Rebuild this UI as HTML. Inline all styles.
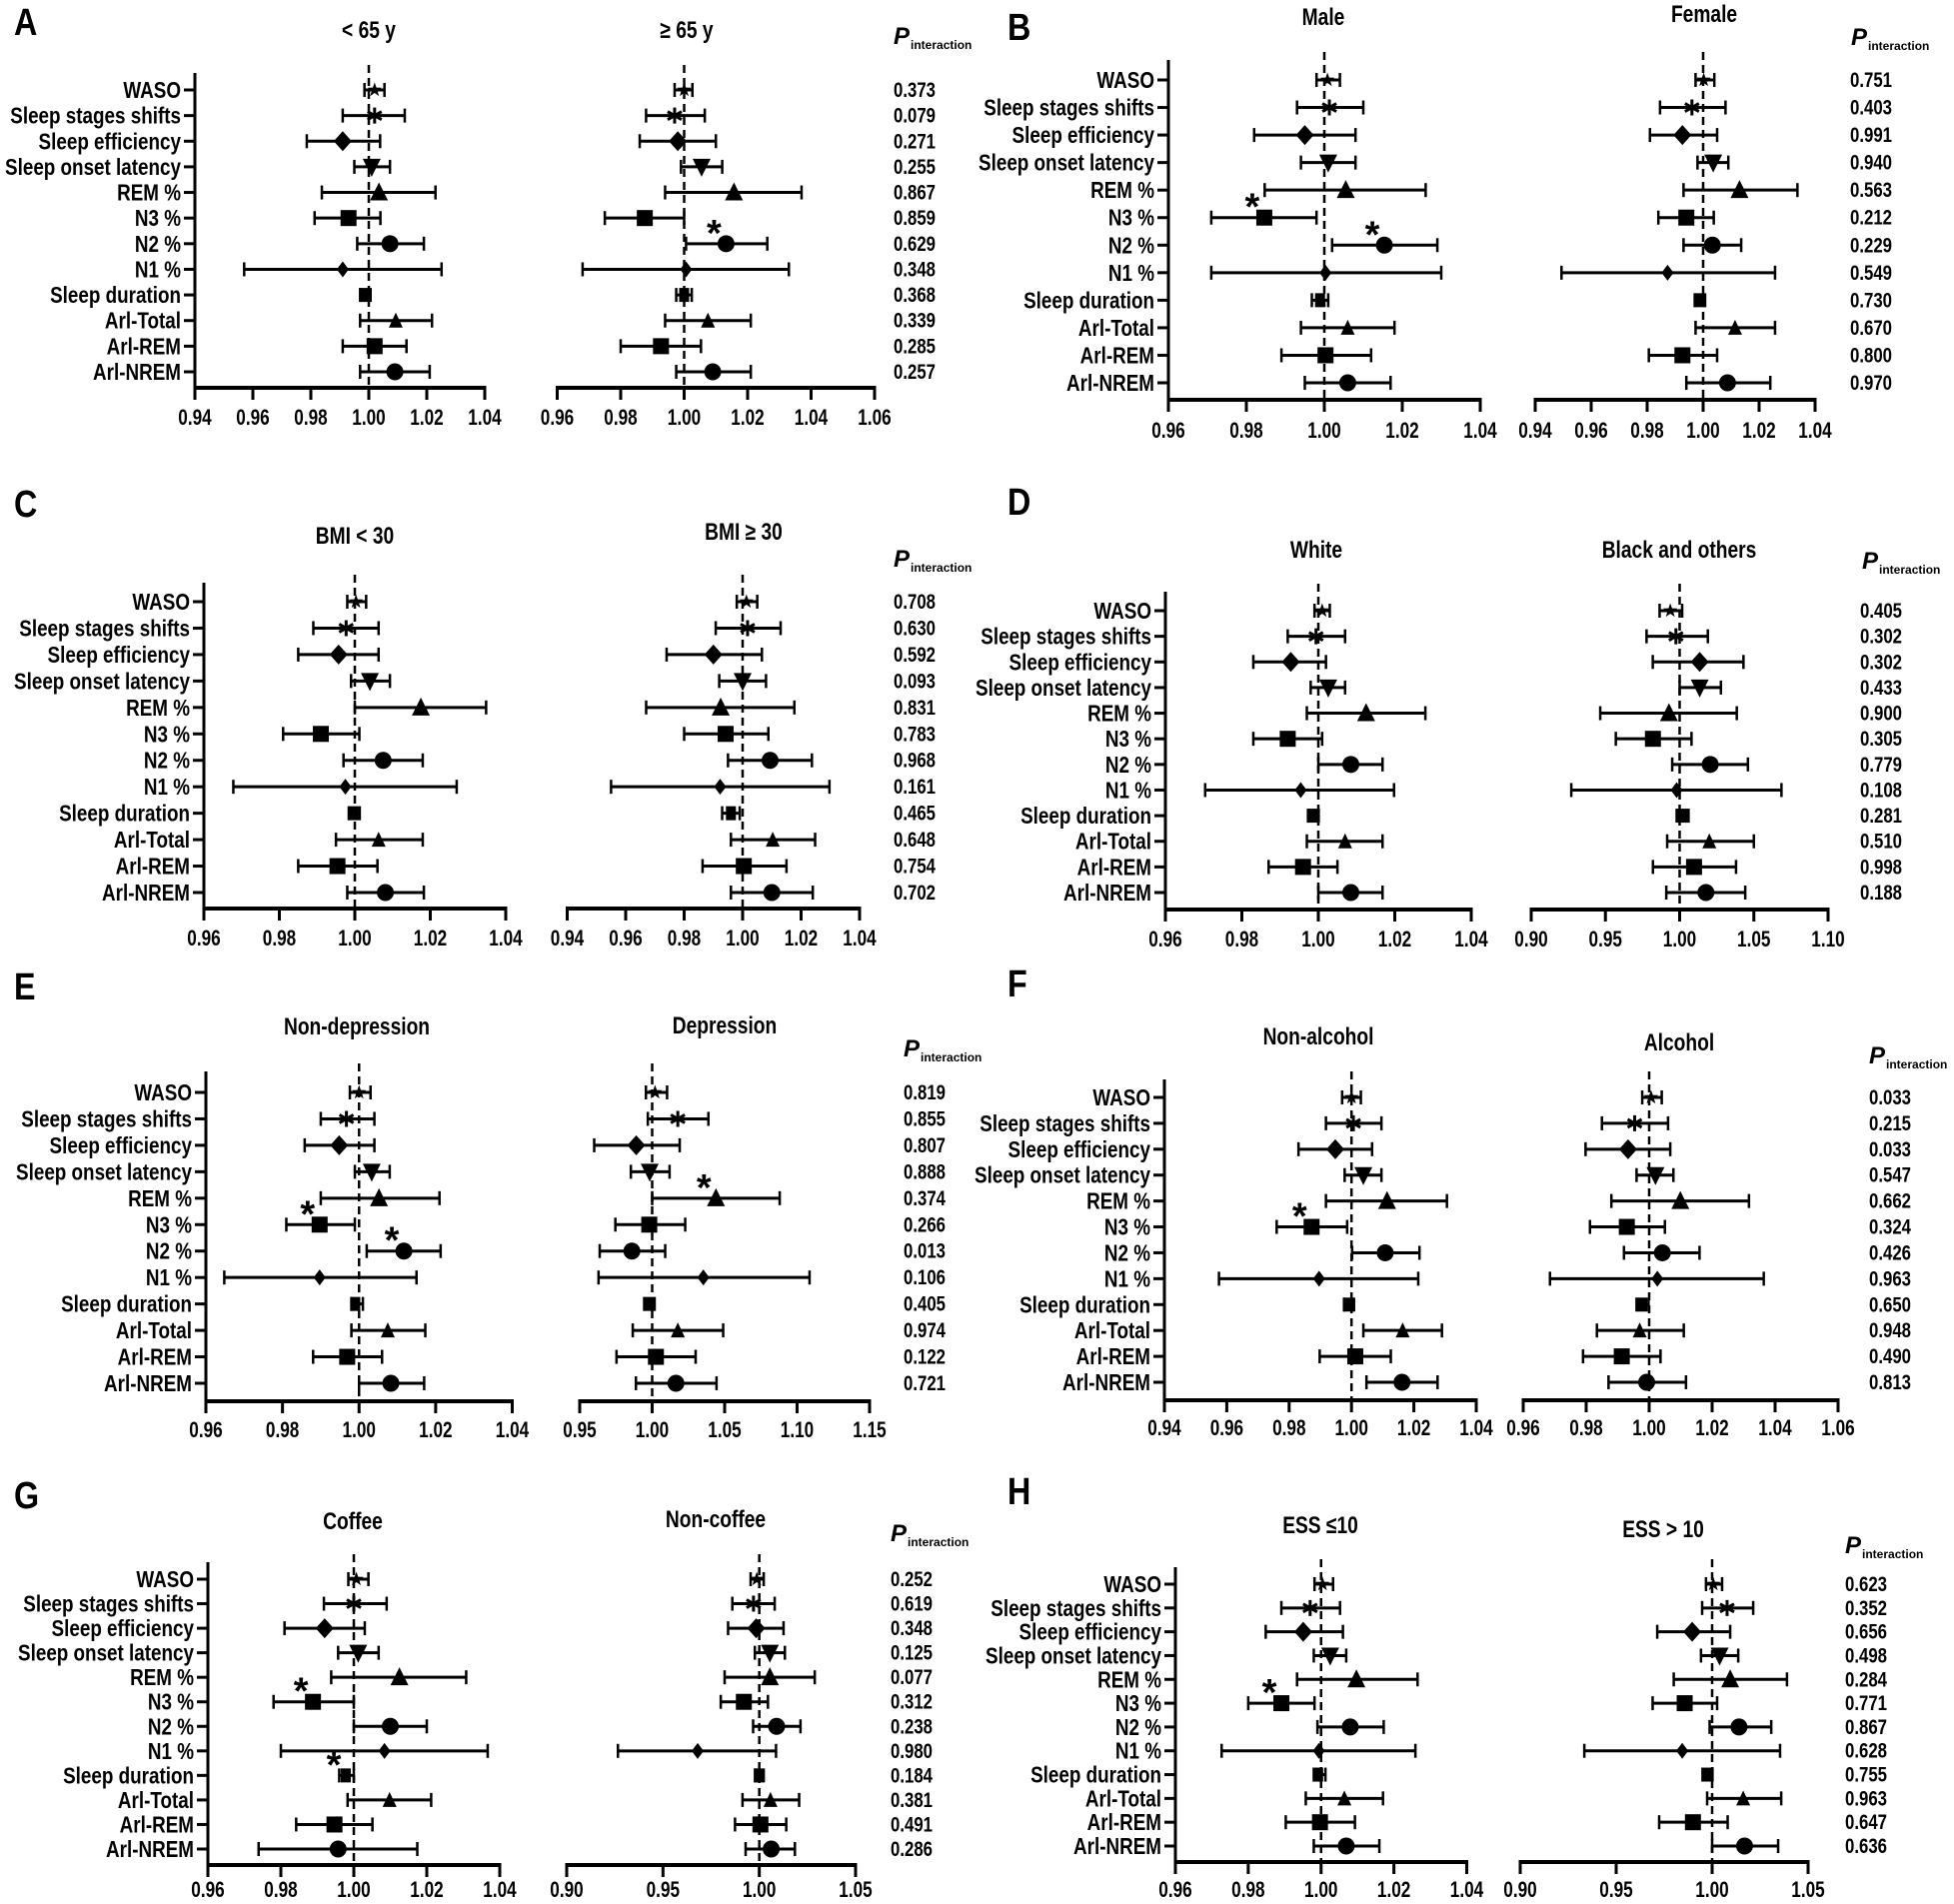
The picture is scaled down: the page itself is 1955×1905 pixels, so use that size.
<!DOCTYPE html>
<html><head><meta charset="utf-8"><title>Forest plots</title>
<style>
html,body{margin:0;padding:0;background:#fff;}
svg{display:block;}
text{font-family:"Liberation Sans","DejaVu Sans",sans-serif;font-weight:bold;fill:#000;}
</style></head>
<body>
<svg id="fig" xmlns="http://www.w3.org/2000/svg" width="1955" height="1905" viewBox="0 0 1955 1905"></svg>
<script>
const categories = ["WASO","Sleep stages shifts","Sleep efficiency","Sleep onset latency","REM %","N3 %","N2 %","N1 %","Sleep duration","Arl-Total","Arl-REM","Arl-NREM"];

const A_lt_est=[1.002,1.002,0.991,1.001,1.0035,0.993,1.0073,0.991,0.9985,1.0093,1.002,1.009];
const A_lt_lo=[0.9985,0.991,0.9786,0.995,0.9838,0.9813,0.996,0.957,0.997,0.997,0.991,0.997];
const A_lt_hi=[1.0054,1.0124,1.0039,1.0073,1.023,1.004,1.019,1.0251,1.0006,1.0218,1.013,1.021];
const A_lt_sig=[0,0,0,0,0,0,0,0,0,0,0,0];
const A_rt_est=[1.0,0.997,0.998,1.0055,1.0157,0.9876,1.0132,1.0006,1.0,1.0075,0.9927,1.009];
const A_rt_lo=[0.997,0.988,0.986,0.999,0.994,0.975,1.0006,0.968,0.9975,0.994,0.980,0.9975];
const A_rt_hi=[1.0026,1.0065,1.010,1.012,1.037,1.000,1.0262,1.033,1.0024,1.021,1.0053,1.021];
const A_rt_sig=[0,0,0,0,0,0,1,0,0,0,0,0];
const A_p=["0.373","0.079","0.271","0.255","0.867","0.859","0.629","0.348","0.368","0.339","0.285","0.257"];

const B_lt_est=[1.0008,1.0013,0.995,1.001,1.0055,0.9846,1.0154,1.0003,0.9989,1.006,1.0003,1.006];
const B_lt_lo=[0.998,0.993,0.982,0.994,0.9847,0.971,1.002,0.971,0.9968,0.994,0.989,0.995];
const B_lt_hi=[1.004,1.010,1.008,1.008,1.026,0.998,1.029,1.030,1.001,1.018,1.012,1.017];
const B_lt_sig=[0,0,0,0,0,1,1,0,0,0,0,0];
const B_rt_est=[1.0002,0.996,0.9926,1.0036,1.013,0.994,1.0033,0.9873,0.9987,1.0114,0.9926,1.0087];
const B_rt_lo=[0.9973,0.9846,0.981,0.998,0.993,0.984,0.993,0.9494,0.997,0.9973,0.9806,0.994];
const B_rt_hi=[1.004,1.008,1.005,1.009,1.0337,1.0038,1.0136,1.0257,1.0007,1.0257,1.005,1.024];
const B_rt_sig=[0,0,0,0,0,0,0,0,0,0,0,0];
const B_p=["0.751","0.403","0.991","0.940","0.563","0.212","0.229","0.549","0.730","0.670","0.800","0.970"];

const C_lt_est=[1.0003,0.9977,0.9957,1.004,1.0175,0.991,1.0075,0.9975,0.9997,1.0063,0.9954,1.0081];
const C_lt_lo=[0.998,0.989,0.985,0.999,1.000,0.981,0.997,0.9678,0.9984,0.995,0.985,0.998];
const C_lt_hi=[1.003,1.0063,1.0063,1.0093,1.0348,1.0012,1.018,1.027,1.0013,1.018,1.006,1.0183];
const C_lt_sig=[0,0,0,0,0,0,0,0,0,0,0,0];
const C_rt_est=[1.0013,1.0017,0.990,1.000,0.9925,0.9942,1.0094,0.9923,0.996,1.0103,1.0004,1.010];
const C_rt_lo=[0.998,0.9908,0.974,0.992,0.967,0.980,0.995,0.955,0.993,0.996,0.9863,0.996];
const C_rt_hi=[1.005,1.013,1.0066,1.008,1.0177,1.0088,1.0237,1.0297,0.999,1.0248,1.015,1.024];
const C_rt_sig=[0,0,0,0,0,0,0,0,0,0,0,0];
const C_p=["0.708","0.630","0.592","0.093","0.831","0.783","0.968","0.161","0.465","0.648","0.754","0.702"];

const D_lt_est=[1.001,0.9994,0.9928,1.0026,1.0125,0.992,1.0085,0.9954,0.9987,1.007,0.996,1.0085];
const D_lt_lo=[0.999,0.992,0.983,0.998,0.997,0.983,1.000,0.9704,0.9973,0.997,0.987,1.000];
const D_lt_hi=[1.003,1.007,1.002,1.007,1.028,1.001,1.0168,1.0198,1.0001,1.0168,1.005,1.0168];
const D_lt_sig=[0,0,0,0,0,0,0,0,0,0,0,0];
const D_rt_est=[0.9937,0.9975,1.0135,1.0135,0.9928,0.982,1.0206,0.998,1.002,1.020,1.0097,1.0177];
const D_rt_lo=[0.9865,0.9777,0.9819,1.0,0.9465,0.957,0.995,0.927,0.998,0.9916,0.982,0.991];
const D_rt_hi=[1.0017,1.019,1.043,1.0278,1.0385,1.008,1.046,1.0686,1.006,1.050,1.038,1.0442];
const D_rt_sig=[0,0,0,0,0,0,0,0,0,0,0,0];
const D_p=["0.405","0.302","0.302","0.433","0.900","0.305","0.779","0.108","0.281","0.510","0.998","0.188"];

const E_lt_est=[1.0,0.9967,0.9948,1.0033,1.0052,0.9897,1.0117,0.9897,0.999,1.0075,0.9969,1.0083];
const E_lt_lo=[0.9976,0.990,0.9858,0.9989,0.990,0.981,1.002,0.9648,0.998,0.998,0.988,1.0];
const E_lt_hi=[1.003,1.004,1.004,1.008,1.021,0.9989,1.0213,1.015,1.001,1.0173,1.006,1.017];
const E_lt_sig=[0,0,0,0,0,1,1,0,0,0,0,0];
const E_rt_est=[1.002,1.0177,0.989,0.9983,1.044,0.998,0.986,1.0353,0.998,1.0177,1.0026,1.0164];
const E_rt_lo=[0.9957,0.997,0.960,0.9853,1.0,0.9746,0.9638,0.963,0.9945,0.9866,0.9754,0.9888];
const E_rt_hi=[1.0103,1.0388,1.019,1.012,1.088,1.0228,1.009,1.1086,1.0017,1.049,1.030,1.0444];
const E_rt_sig=[0,0,0,0,1,0,0,0,0,0,0,0];
const E_p=["0.819","0.855","0.807","0.888","0.374","0.266","0.013","0.106","0.405","0.974","0.122","0.721"];

const F_lt_est=[1.0,1.0006,0.9948,1.0038,1.0114,0.9872,1.0108,0.9896,0.999,1.0164,1.0012,1.0162];
const F_lt_lo=[0.997,0.9918,0.983,0.9978,0.9918,0.976,1.0002,0.9575,0.9976,1.0038,0.9898,1.0048];
const F_lt_hi=[1.003,1.0096,1.0066,1.0096,1.0306,0.9986,1.0218,1.0214,1.0008,1.029,1.0126,1.0276];
const F_lt_sig=[0,0,0,0,0,1,0,0,0,0,0,0];
const F_rt_est=[1.0006,0.9954,0.9933,1.002,1.0099,0.9929,1.0042,1.0026,0.9978,0.997,0.9913,0.9992];
const F_rt_lo=[0.9978,0.985,0.9798,0.996,0.988,0.9812,0.992,0.9685,0.996,0.9834,0.979,0.9871];
const F_rt_hi=[1.004,1.006,1.0067,1.0077,1.0317,1.005,1.016,1.0364,0.9998,1.011,1.0036,1.0117];
const F_rt_sig=[0,0,0,0,0,0,0,0,0,0,0,0];
const F_p=["0.033","0.215","0.033","0.547","0.662","0.324","0.426","0.963","0.650","0.948","0.490","0.813"];

const G_lt_est=[1.0007,1.0,0.992,1.0012,1.0125,0.9888,1.010,1.0084,0.9978,1.0098,0.9947,0.9957];
const G_lt_lo=[0.9985,0.9918,0.981,0.9957,0.9938,0.978,1.0,0.98,0.996,0.9983,0.9842,0.9739];
const G_lt_hi=[1.004,1.009,1.003,1.0068,1.0308,1.0,1.020,1.0367,1.0,1.0212,1.0051,1.0174];
const G_lt_sig=[0,0,0,0,0,1,0,0,1,0,0,0];
const G_rt_est=[0.9987,0.997,0.9984,1.0055,1.0055,0.992,1.009,0.968,0.9997,1.0058,1.0006,1.0062];
const G_rt_lo=[0.9955,0.986,0.9838,0.9977,0.982,0.980,0.9968,0.9266,0.998,0.9913,0.9874,0.9929];
const G_rt_hi=[1.0023,1.008,1.0126,1.0133,1.0288,1.0045,1.0214,1.0087,1.0023,1.0207,1.014,1.0185];
const G_rt_sig=[0,0,0,0,0,0,0,0,0,0,0,0];
const G_p=["0.252","0.619","0.348","0.125","0.077","0.312","0.238","0.980","0.184","0.381","0.491","0.286"];

const H_lt_est=[1.0004,0.997,0.9951,1.0025,1.0097,0.9891,1.008,0.9994,0.9992,1.0064,0.9997,1.0069];
const H_lt_lo=[0.9982,0.9891,0.9848,0.998,0.9934,0.980,0.999,0.9727,0.998,0.9958,0.9903,0.998];
const H_lt_hi=[1.0033,1.0052,1.006,1.0069,1.0265,0.9982,1.0172,1.0259,1.0012,1.017,1.0093,1.016];
const H_lt_sig=[0,0,0,0,0,1,0,0,0,0,0,0];
const H_rt_est=[1.0006,1.0078,0.9896,1.0039,1.0094,0.9857,1.014,0.9844,0.9974,1.0162,0.990,1.0169];
const H_rt_lo=[0.9968,0.9948,0.9714,0.9942,0.980,0.969,0.9987,0.9334,0.995,0.9974,0.9724,1.0];
const H_rt_hi=[1.0052,1.0214,1.0094,1.0136,1.039,1.0026,1.0308,1.0354,1.0002,1.036,1.0081,1.0344];
const H_rt_sig=[0,0,0,0,0,0,0,0,0,0,0,0];
const H_p=["0.623","0.352","0.656","0.498","0.284","0.771","0.867","0.628","0.755","0.963","0.647","0.636"];

const ticks_94_104=["0.94","0.96","0.98","1.00","1.02","1.04"];
const ticks_96_104=["0.96","0.98","1.00","1.02","1.04"];
const ticks_96_106=["0.96","0.98","1.00","1.02","1.04","1.06"];
const ticks_90_110=["0.90","0.95","1.00","1.05","1.10"];
const ticks_95_115=["0.95","1.00","1.05","1.10","1.15"];
const ticks_90_105=["0.90","0.95","1.00","1.05"];

const markerShapes=["star","ast","diamond","tridown","triup","square","circle","diamondS","sd","triupS","square","circle"];

const panels=[
 {id:"A",lx:14,ly:35,top:90,bot:372,axisY:388,tickY:425,yTop:73,pX:894,pintX:894,pintY:44,
  subs:[{px0:195,px1:485,ticks:ticks_94_104,title:"< 65 y",tx:369,ty:38,est:A_lt_est,lo:A_lt_lo,hi:A_lt_hi,sig:A_lt_sig},
        {px0:557.5,px1:875,ticks:ticks_96_106,title:"≥ 65 y",tx:687,ty:38,est:A_rt_est,lo:A_rt_lo,hi:A_rt_hi,sig:A_rt_sig}],p:A_p},
 {id:"B",lx:1008,ly:40,top:80,bot:383,axisY:400,tickY:438,yTop:60,pX:1851,pintX:1852,pintY:45,
  subs:[{px0:1169,px1:1481,ticks:ticks_96_104,title:"Male",tx:1324,ty:25,est:B_lt_est,lo:B_lt_lo,hi:B_lt_hi,sig:B_lt_sig},
        {px0:1536,px1:1816,ticks:ticks_94_104,title:"Female",tx:1705,ty:22,est:B_rt_est,lo:B_rt_lo,hi:B_rt_hi,sig:B_rt_sig}],p:B_p},
 {id:"C",lx:14,ly:517,top:602,bot:893,axisY:909,tickY:946,yTop:583,pX:894,pintX:894,pintY:567,
  subs:[{px0:204,px1:506,ticks:ticks_96_104,title:"BMI < 30",tx:355,ty:544,est:C_lt_est,lo:C_lt_lo,hi:C_lt_hi,sig:C_lt_sig},
        {px0:567.5,px1:860,ticks:ticks_94_104,title:"BMI ≥ 30",tx:744,ty:540,est:C_rt_est,lo:C_rt_lo,hi:C_rt_hi,sig:C_rt_sig}],p:C_p},
 {id:"D",lx:1008,ly:515,top:611,bot:893,axisY:910,tickY:947,yTop:592,pX:1861,pintX:1863,pintY:569,
  subs:[{px0:1166,px1:1472,ticks:ticks_96_104,title:"White",tx:1317,ty:558,est:D_lt_est,lo:D_lt_lo,hi:D_lt_hi,sig:D_lt_sig},
        {px0:1532,px1:1829,ticks:ticks_90_110,title:"Black and others",tx:1680,ty:558,est:D_rt_est,lo:D_rt_lo,hi:D_rt_hi,sig:D_rt_sig}],p:D_p},
 {id:"E",lx:14,ly:1000,top:1093,bot:1384,axisY:1402,tickY:1438,yTop:1072,pX:904,pintX:904,pintY:1057,
  subs:[{px0:206,px1:512.5,ticks:ticks_96_104,title:"Non-depression",tx:357,ty:1035,est:E_lt_est,lo:E_lt_lo,hi:E_lt_hi,sig:E_lt_sig},
        {px0:580,px1:870,ticks:ticks_95_115,title:"Depression",tx:725,ty:1034,est:E_rt_est,lo:E_rt_lo,hi:E_rt_hi,sig:E_rt_sig}],p:E_p},
 {id:"F",lx:1008,ly:997,top:1098,bot:1383,axisY:1401,tickY:1436,yTop:1080,pX:1870,pintX:1870,pintY:1064,
  subs:[{px0:1165,px1:1477,ticks:ticks_94_104,title:"Non-alcohol",tx:1319,ty:1045,est:F_lt_est,lo:F_lt_lo,hi:F_lt_hi,sig:F_lt_sig},
        {px0:1524,px1:1839,ticks:ticks_96_106,title:"Alcohol",tx:1680,ty:1051,est:F_rt_est,lo:F_rt_lo,hi:F_rt_hi,sig:F_rt_sig}],p:F_p},
 {id:"G",lx:14,ly:1509,top:1580,bot:1850,axisY:1866,tickY:1898,yTop:1563,pX:891,pintX:891,pintY:1542,
  subs:[{px0:208,px1:500,ticks:ticks_96_104,title:"Coffee",tx:353,ty:1530,est:G_lt_est,lo:G_lt_lo,hi:G_lt_hi,sig:G_lt_sig},
        {px0:567,px1:856,ticks:ticks_90_105,title:"Non-coffee",tx:716,ty:1528,est:G_rt_est,lo:G_rt_lo,hi:G_rt_hi,sig:G_rt_sig}],p:G_p},
 {id:"H",lx:1008,ly:1505,top:1585,bot:1847,axisY:1863,tickY:1898,yTop:1568,pX:1846,pintX:1846,pintY:1554,
  subs:[{px0:1176,px1:1467.5,ticks:ticks_96_104,title:"ESS ≤10",tx:1321,ty:1534,est:H_lt_est,lo:H_lt_lo,hi:H_lt_hi,sig:H_lt_sig},
        {px0:1521,px1:1809,ticks:ticks_90_105,title:"ESS > 10",tx:1664,ty:1538,est:H_rt_est,lo:H_rt_lo,hi:H_rt_hi,sig:H_rt_sig}],p:H_p}
];

const NS="http://www.w3.org/2000/svg";
const svg=document.getElementById("fig");
function mk(parent,tag,attrs,txt){
  const e=document.createElementNS(NS,tag);
  for(const k in attrs) e.setAttribute(k,attrs[k]);
  if(txt!==undefined) e.textContent=txt;
  parent.appendChild(e);
  return e;
}
function ctext(parent,x,y,anchor,size,sx,str){
  return mk(parent,"text",{x:0,y:0,"text-anchor":anchor,"font-size":size,transform:`translate(${x},${y}) scale(${sx},1)`},str);
}
function marker(g,shape,x,y){
  let e;
  if(shape==="circle"){e=mk(g,"circle",{cx:x,cy:y,r:8.5});}
  else if(shape==="square"){e=mk(g,"rect",{x:x-8,y:y-8,width:16,height:16});}
  else if(shape==="diamond"){e=mk(g,"polygon",{points:`${x},${y-10} ${x+9},${y} ${x},${y+10} ${x-9},${y}`});}
  else if(shape==="diamondS"){e=mk(g,"polygon",{points:`${x},${y-8} ${x+6},${y} ${x},${y+8} ${x-6},${y}`});}
  else if(shape==="triup"){e=mk(g,"polygon",{points:`${x},${y-10} ${x+9},${y+8} ${x-9},${y+8}`});}
  else if(shape==="triupS"){e=mk(g,"polygon",{points:`${x},${y-8} ${x+7},${y+7} ${x-7},${y+7}`});}
  else if(shape==="tridown"){e=mk(g,"polygon",{points:`${x-9},${y-8} ${x+9},${y-8} ${x},${y+10}`});}
  else if(shape==="sd"){e=mk(g,"rect",{x:x-5,y:y-7,width:10,height:14});}
  else if(shape==="star"){
    let pts=[];for(let k=0;k<10;k++){const r=k%2?3:7.5;const a=-Math.PI/2+k*Math.PI/5;pts.push((x+r*Math.cos(a)).toFixed(1)+","+(y+r*Math.sin(a)).toFixed(1));}
    e=mk(g,"polygon",{points:pts.join(" ")});
  } else {
    e=mk(g,"path",{d:`M${x},${y-8}L${x},${y+8}M${x-7},${y-4}L${x+7},${y+4}M${x-7},${y+4}L${x+7},${y-4}`,stroke:"#000","stroke-width":3,fill:"none"});
  }
  e.setAttribute("fill","#000");
  if(shape==="ast") e.setAttribute("fill","none");
  return e;
}

panels.forEach(P=>{
  const pg=mk(svg,"g",{});
  
  
  const lt=ctext(pg,P.lx,P.ly,"start",38,0.85,P.id);
  
  
  const step=(P.bot-P.top)/(categories.length-1);
  const rowY=i=>P.top+i*step;
  const yx=P.subs[0].px0;
  const ya=mk(pg,"line",{x1:yx,y1:P.yTop,x2:yx,y2:P.axisY,stroke:"#000","stroke-width":3});
  
  
  categories.forEach((c,i)=>{
    mk(pg,"line",{x1:yx-11,y1:rowY(i),x2:yx,y2:rowY(i),stroke:"#000","stroke-width":3});
    const t=ctext(pg,yx-14,rowY(i)+8,"end",23,0.82,c);
    
    
    const pv=ctext(pg,P.pX,rowY(i)+7,"start",21,0.8,P.p[i]);
    
    
  });
  const pi=mk(pg,"text",{x:P.pintX,y:P.pintY,"font-size":24,"font-style":"italic"},"P");
  
  
  mk(pi,"tspan",{"font-size":12,"font-style":"normal",dy:5,dx:1},"interaction");
  P.subs.forEach((S,si)=>{
    const vals=S.ticks.map(parseFloat);
    const vmin=vals[0],vmax=vals[vals.length-1];
    const sx=v=>S.px0+(v-vmin)/(vmax-vmin)*(S.px1-S.px0);
    const sg=mk(pg,"g",{});
    
    
    const tt=ctext(sg,S.tx,S.ty,"middle",24,0.8,S.title);
    
    
    const ax=mk(sg,"line",{x1:S.px0-1.5,y1:P.axisY,x2:S.px1+1.5,y2:P.axisY,stroke:"#000","stroke-width":4});
    
    
    S.ticks.forEach((lab,k)=>{
      const x=sx(vals[k]);
      mk(sg,"line",{x1:x,y1:P.axisY,x2:x,y2:P.axisY+12,stroke:"#000","stroke-width":3});
      const tl=ctext(sg,x,P.tickY,"middle",22,0.78,lab);
      
      
    });
    const rl=mk(sg,"line",{x1:sx(1),y1:P.yTop-8,x2:sx(1),y2:P.axisY,stroke:"#000","stroke-width":2.5,"stroke-dasharray":"8,5"});
    
    
    categories.forEach((c,i)=>{
      const y=rowY(i);
      const eg=mk(sg,"g",{});
      
      
      const x1=sx(S.lo[i]),x2=sx(S.hi[i]);
      mk(eg,"line",{x1:x1,y1:y,x2:x2,y2:y,stroke:"#000","stroke-width":3});
      mk(eg,"line",{x1:x1,y1:y-7,x2:x1,y2:y+7,stroke:"#000","stroke-width":2.5});
      mk(eg,"line",{x1:x2,y1:y-7,x2:x2,y2:y+7,stroke:"#000","stroke-width":2.5});
      marker(eg,markerShapes[i],sx(S.est[i]),y);
      if(S.sig[i]){
        const st=mk(eg,"text",{x:sx(S.est[i])-12,y:y+2,"text-anchor":"middle","font-size":38},"*");
        
        
      }
    });
  });
});
</script>
</body></html>
